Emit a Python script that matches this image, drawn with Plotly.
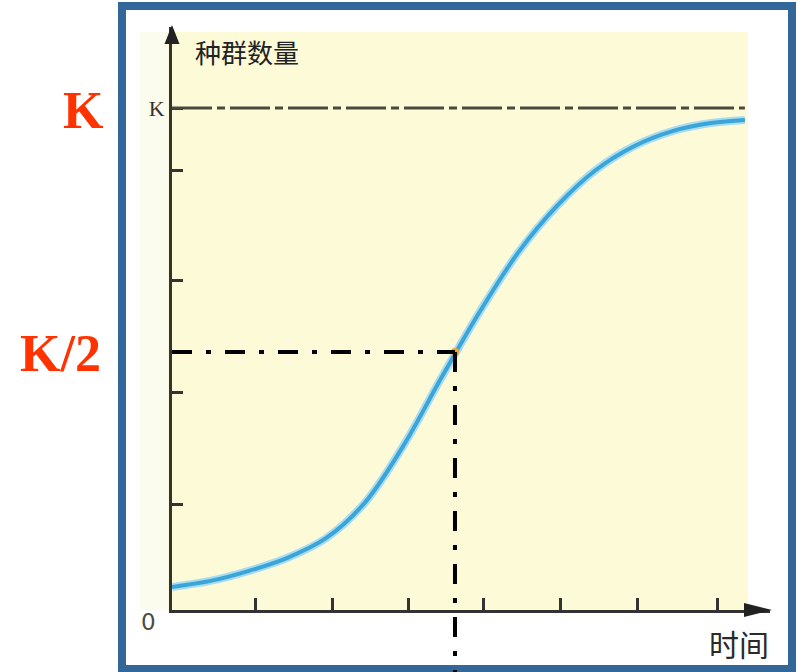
import plotly.graph_objects as go

# ---- data ----
time = [0, 0.5, 1, 1.5, 2, 2.5, 3, 3.5, 4, 4.5, 5, 5.5, 6, 6.5, 7, 7.44]
population = [4.6, 5.8, 7.8, 10.4, 14.3, 21.3, 32.6, 46.3, 59.5, 71.3, 80.5, 87.6, 92.4, 95.4, 97.0, 97.6]
K_LEVEL = 100
HALF_LEVEL = 51.4
T_HALF = 3.675
T_END_K = 7.44
x_tickvals = [1.08, 2.08, 3.07, 4.04, 5.04, 6.04, 7.08]
y_tickvals = [21.1, 43.4, 65.7, 87.6, 100]
y_ticktext = ["", "", "", "", "K"]
y_title = "种群数量"
x_title = "时间"
origin_label = "0"
side_labels = ["K", "K/2"]

# ---- layout geometry ----
W, H = 802, 672
L, R, T, B = 172, 32, 27, 62
PW, PH = W - L - R, H - T - B
X_MAX = 7.766
Y_MAX = 116.14


def px(x):
    return (x - L) / PW


def py(y):
    return (H - B - y) / PH


fig = go.Figure()
fig.add_trace(go.Scatter(
    x=time, y=population, mode="lines",
    line=dict(color="#a8dcf2", width=8, shape="spline", smoothing=1.0),
    hoverinfo="skip", showlegend=False))
fig.add_trace(go.Scatter(
    x=time, y=population, mode="lines",
    line=dict(color="#3aa5d6", width=4, shape="spline", smoothing=1.0),
    showlegend=False))
fig.add_trace(go.Scatter(
    x=[T_HALF], y=[HALF_LEVEL], mode="markers",
    marker=dict(color="#f4a22d", size=8), showlegend=False))

shapes = [
    dict(type="rect", xref="paper", yref="paper", x0=px(140), x1=px(172), y0=0, y1=py(32),
         fillcolor="#fbfbee", line=dict(width=0), layer="below"),
    dict(type="rect", xref="paper", yref="paper", x0=px(168), x1=px(748), y0=0, y1=py(32),
         fillcolor="#fdfad8", line=dict(width=0), layer="below"),
    dict(type="rect", xref="paper", yref="paper", x0=px(122), x1=px(792), y0=py(669), y1=py(6),
         line=dict(color="#336699", width=8), fillcolor="rgba(0,0,0,0)"),
    dict(type="line", xref="x", yref="y", x0=0, x1=T_END_K, y0=K_LEVEL, y1=K_LEVEL,
         line=dict(color="#4a4a3c", width=3, dash="40px,5px,8px,5px")),
    dict(type="line", xref="x", yref="y", x0=0, x1=T_HALF, y0=HALF_LEVEL, y1=HALF_LEVEL,
         line=dict(color="#000000", width=4, dash="20px,14px,5px,14px")),
    dict(type="line", xref="paper", yref="paper", x0=T_HALF / X_MAX, x1=T_HALF / X_MAX,
         y0=HALF_LEVEL / Y_MAX, y1=py(672),
         line=dict(color="#000000", width=4, dash="20px,14px,5px,14px")),
    # axis arrow heads
    dict(type="path", xref="paper", yref="paper",
         path=f"M {px(772)},{py(610)} L {px(744)},{py(603)} L {px(744)},{py(617)} Z",
         fillcolor="#222222", line=dict(width=0)),
    dict(type="path", xref="paper", yref="paper",
         path=f"M {px(172)},{py(25)} L {px(164.5)},{py(44)} L {px(179.5)},{py(44)} Z",
         fillcolor="#222222", line=dict(width=0)),
]

annotations = [
    dict(text=y_title, x=px(193), y=py(51), xref="paper", yref="paper", xanchor="left", yanchor="middle",
         showarrow=False, font=dict(family="Noto Sans CJK SC", size=26, color="#222222")),
    dict(text=x_title, x=px(771), y=py(643), xref="paper", yref="paper", xanchor="right", yanchor="middle",
         showarrow=False, font=dict(family="Noto Sans CJK SC", size=30, color="#2a2a2a")),
    dict(text=origin_label, x=px(148), y=py(622), xref="paper", yref="paper", xanchor="center", yanchor="middle",
         showarrow=False, font=dict(family="DejaVu Sans", size=23, color="#4a4a4a")),
    dict(text="<b>" + side_labels[0] + "</b>", x=px(84), y=py(111), xref="paper", yref="paper",
         xanchor="center", yanchor="middle", showarrow=False,
         font=dict(family="Liberation Serif", size=52, color="#ff3300")),
    dict(text="<b>" + side_labels[1] + "</b>", x=px(60), y=py(353), xref="paper", yref="paper",
         xanchor="center", yanchor="middle", showarrow=False,
         font=dict(family="Liberation Serif", size=52, color="#ff3300")),
]

fig.update_layout(
    width=W, height=H,
    margin=dict(l=L, r=R, t=T, b=B, pad=0),
    paper_bgcolor="white", plot_bgcolor="rgba(0,0,0,0)",
    shapes=shapes, annotations=annotations,
    xaxis=dict(range=[0, X_MAX], showgrid=False, zeroline=False, showline=True,
               linecolor="#333333", linewidth=3, ticks="inside", tickvals=x_tickvals,
               ticklen=12, tickwidth=3, tickcolor="#333333", showticklabels=False),
    yaxis=dict(range=[0, Y_MAX], showgrid=False, zeroline=False, showline=True,
               linecolor="#333333", linewidth=3, ticks="inside", tickvals=y_tickvals,
               ticktext=y_ticktext, ticklen=11, tickwidth=3, tickcolor="#333333",
               tickfont=dict(family="Liberation Serif", size=22, color="#333333")),
)

fig.write_html(
    "out.html",
    config={"displayModeBar": False},
    post_script="document.body.style.margin='0';document.body.style.overflow='hidden';",
)
